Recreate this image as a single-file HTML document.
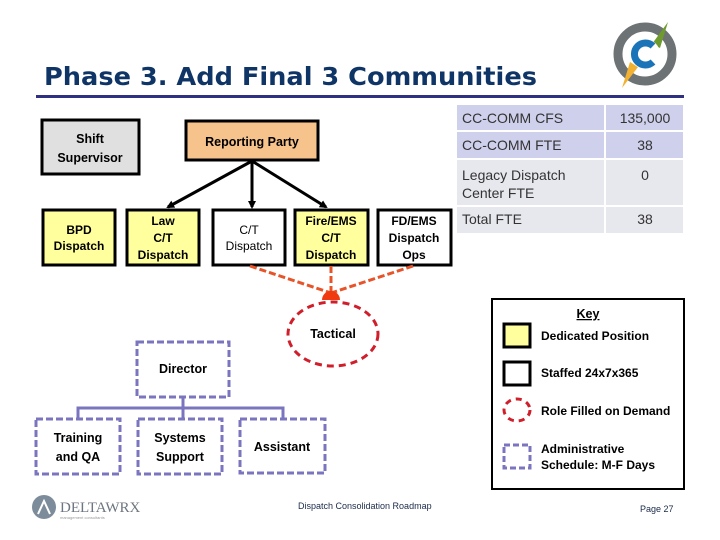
<!DOCTYPE html>
<html><head><meta charset="utf-8"><style>
html,body{margin:0;padding:0;background:#fff;}
svg{display:block;font-family:"Liberation Sans",sans-serif;}
.b{font-weight:bold;font-size:12.5px;fill:#000;}
.t{font-size:14px;fill:#333;}
</style></head><body>
<svg width="720" height="540" viewBox="0 0 720 540" xmlns="http://www.w3.org/2000/svg">
<defs><marker id="ah" markerWidth="8" markerHeight="8" refX="6" refY="4" orient="auto" markerUnits="userSpaceOnUse"><path d="M0,0 L8,4 L0,8 z" fill="#000"/></marker></defs>
<!-- title -->
<text x="44" y="85" font-family="DejaVu Sans,sans-serif" font-size="25" font-weight="bold" fill="#0f3466" textLength="493" lengthAdjust="spacingAndGlyphs">Phase 3. Add Final 3 Communities</text>
<rect x="36" y="95" width="648" height="3" fill="#2e3080"/>
<!-- logo -->
<circle cx="645" cy="54" r="27" fill="none" stroke="#6d7275" stroke-width="9"/>
<polygon points="668,22 652,44 660,48" fill="#6f9a2e"/>
<polygon points="622,88 630,62 638,67" fill="#f2b130"/>
<circle cx="645" cy="54" r="15" fill="#fff"/>
<path d="M653,46 A11,11 0 1 0 653,62" fill="none" stroke="#1b74b8" stroke-width="7"/>
<!-- table -->
<rect x="457" y="105" width="147" height="25" fill="#cfd0ec"/><rect x="606" y="105" width="77" height="25" fill="#cfd0ec"/>
<rect x="457" y="132" width="147" height="26" fill="#cfd0ec"/><rect x="606" y="132" width="77" height="26" fill="#cfd0ec"/>
<rect x="457" y="160" width="147" height="45" fill="#e7e8ee"/><rect x="606" y="160" width="77" height="45" fill="#e7e8ee"/>
<rect x="457" y="207" width="147" height="26" fill="#e7e8ee"/><rect x="606" y="207" width="77" height="26" fill="#e7e8ee"/>
<text class="t" x="462" y="123">CC-COMM CFS</text><text class="t" x="645" y="123" text-anchor="middle">135,000</text>
<text class="t" x="462" y="150">CC-COMM FTE</text><text class="t" x="645" y="150" text-anchor="middle">38</text>
<text class="t" x="462" y="180">Legacy Dispatch</text><text class="t" x="462" y="198">Center FTE</text><text class="t" x="645" y="180" text-anchor="middle">0</text>
<text class="t" x="462" y="224">Total FTE</text><text class="t" x="645" y="224" text-anchor="middle">38</text>
<!-- top boxes -->
<rect x="42" y="120" width="97" height="54" fill="#e0e0e0" stroke="#000" stroke-width="3"/>
<text class="b" x="90" y="143" text-anchor="middle">Shift</text><text class="b" x="90" y="162" text-anchor="middle">Supervisor</text>
<rect x="186" y="121" width="132" height="39" fill="#f6c38c" stroke="#000" stroke-width="3"/>
<text class="b" x="252" y="146" text-anchor="middle">Reporting Party</text>
<line x1="252" y1="161" x2="168" y2="207" stroke="#000" stroke-width="3" marker-end="url(#ah)"/>
<line x1="252" y1="161" x2="252" y2="207" stroke="#000" stroke-width="3" marker-end="url(#ah)"/>
<line x1="252" y1="161" x2="326" y2="207" stroke="#000" stroke-width="3" marker-end="url(#ah)"/>
<g stroke="#000" stroke-width="3">
<rect x="43" y="210" width="72" height="55" fill="#ffff9e"/>
<rect x="127" y="210" width="72" height="55" fill="#ffff9e"/>
<rect x="213" y="210" width="72" height="55" fill="#fff"/>
<rect x="295" y="210" width="73" height="55" fill="#ffff9e"/>
<rect x="378" y="210" width="73" height="55" fill="#fff"/>
</g>
<g font-size="12" font-weight="bold" text-anchor="middle">
<text x="79" y="234">BPD</text><text x="79" y="250">Dispatch</text>
<text x="163" y="225">Law</text><text x="163" y="242">C/T</text><text x="163" y="259">Dispatch</text>
<text x="249" y="234" font-weight="normal">C/T</text><text x="249" y="250" font-weight="normal">Dispatch</text>
<text x="331" y="225">Fire/EMS</text><text x="331" y="242">C/T</text><text x="331" y="259">Dispatch</text>
<text x="414" y="225">FD/EMS</text><text x="414" y="242">Dispatch</text><text x="414" y="259">Ops</text>
</g>
<!-- red dashed -->
<g stroke="#e8542a" stroke-width="3" stroke-dasharray="7,3">
<line x1="250" y1="266" x2="331" y2="293"/><line x1="331" y1="266" x2="331" y2="293"/><line x1="413" y1="266" x2="331" y2="293"/>
</g>
<path d="M322,300 A9,9 0 0 1 340,300 z" fill="#f03a10"/>
<ellipse cx="333" cy="334" rx="45" ry="32" fill="#fff" stroke="#d01f2a" stroke-width="3" stroke-dasharray="7,5"/>
<text class="b" x="333" y="338" text-anchor="middle">Tactical</text>
<!-- purple -->
<g stroke="#7b75c0" stroke-width="3" fill="#fff">
<path d="M78,419 V408 H283 V419 M183,397 V419" fill="none"/>
<g stroke-dasharray="7,3">
<rect x="137" y="342" width="92" height="55"/>
<rect x="36" y="419" width="84" height="55"/>
<rect x="138" y="419" width="84" height="55"/>
<rect x="240" y="419" width="85" height="54"/>
</g></g>
<text class="b" x="183" y="373" text-anchor="middle">Director</text>
<text class="b" x="78" y="442" text-anchor="middle">Training</text><text class="b" x="78" y="461" text-anchor="middle">and QA</text>
<text class="b" x="180" y="442" text-anchor="middle">Systems</text><text class="b" x="180" y="461" text-anchor="middle">Support</text>
<text class="b" x="282" y="451" text-anchor="middle">Assistant</text>
<!-- key -->
<rect x="492" y="299" width="192" height="190" fill="#fff" stroke="#000" stroke-width="2"/>
<text class="b" x="588" y="318" text-anchor="middle" text-decoration="underline">Key</text>
<rect x="504" y="324" width="26" height="23" fill="#ffff9e" stroke="#000" stroke-width="3"/>
<rect x="504" y="362" width="26" height="23" fill="#fff" stroke="#000" stroke-width="3"/>
<ellipse cx="517" cy="410" rx="13" ry="11" fill="#fff" stroke="#d01f2a" stroke-width="3" stroke-dasharray="6,5"/>
<rect x="504" y="445" width="26" height="23" fill="#fff" stroke="#7b75c0" stroke-width="3" stroke-dasharray="6,3"/>
<g font-size="12" font-weight="bold">
<text x="541" y="340">Dedicated Position</text>
<text x="541" y="377">Staffed 24x7x365</text>
<text x="541" y="415">Role Filled on Demand</text>
<text x="541" y="453">Administrative</text>
<text x="541" y="469">Schedule: M-F Days</text>
</g>
<!-- footer -->
<circle cx="44" cy="507" r="12" fill="#7d8c9b"/>
<path d="M38,514 L44,501 L50,514" fill="none" stroke="#fff" stroke-width="2"/>
<text x="60" y="512" font-family="Liberation Serif,serif" font-size="15" fill="#6d7680">DELTAWRX</text>
<text x="60" y="519" font-size="4" fill="#999">management consultants</text>
<text x="298" y="509" font-size="9" fill="#1a2a4a">Dispatch Consolidation Roadmap</text>
<text x="640" y="512" font-size="9" fill="#1a2a4a">Page 27</text>
</svg>
</body></html>
